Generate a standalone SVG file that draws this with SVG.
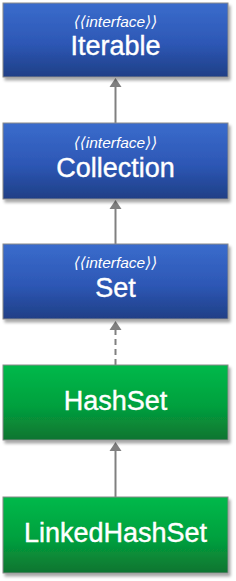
<svg xmlns="http://www.w3.org/2000/svg" width="236" height="581" viewBox="0 0 236 581">
<defs>
<linearGradient id="gb" x1="0" y1="0" x2="0" y2="1">
<stop offset="0" stop-color="#3a6ccc"/>
<stop offset="0.55" stop-color="#2d57b5"/>
<stop offset="1" stop-color="#1f3f86"/>
</linearGradient>
<linearGradient id="gg" x1="0" y1="0" x2="0" y2="1">
<stop offset="0" stop-color="#00b94a"/>
<stop offset="0.55" stop-color="#04a03e"/>
<stop offset="1" stop-color="#0b7430"/>
</linearGradient>
<filter id="sh" x="-10%" y="-10%" width="120%" height="130%">
<feGaussianBlur in="SourceAlpha" stdDeviation="1.5"/>
<feOffset dx="2" dy="3"/>
<feComponentTransfer><feFuncA type="linear" slope="0.35"/></feComponentTransfer>
<feMerge><feMergeNode/><feMergeNode in="SourceGraphic"/></feMerge>
</filter>
</defs>
<style>
.bx{stroke:#8a8a8a;stroke-width:1;filter:url(#sh)}
.blue{fill:url(#gb)}
.green{fill:url(#gg)}
.st{font-family:"Liberation Sans","DejaVu Sans",Arial,sans-serif;font-style:italic;font-size:15.5px;fill:#ffffff;text-anchor:middle}
.nm{font-family:"Liberation Sans",Arial,sans-serif;font-size:27px;fill:#ffffff;text-anchor:middle;stroke:#ffffff;stroke-width:0.4}
.ln{stroke:#808080;stroke-width:2;fill:none}
.ah{fill:#808080}
</style>
<g id="connectors">
<path class="ln" d="M115.5,123 V86"/>
<path class="ah" d="M109.5,87 L115.5,78 L121.5,87 Z"/>
<path class="ln" d="M115.5,244 V208"/>
<path class="ah" d="M109.5,209 L115.5,200 L121.5,209 Z"/>
<path class="ln" d="M115.5,365 V329" stroke-dasharray="6,4"/>
<path class="ah" d="M109.5,330 L115.5,321 L121.5,330 Z"/>
<path class="ln" d="M115.5,497 V450"/>
<path class="ah" d="M109.5,451 L115.5,442 L121.5,451 Z"/>
</g>
<g id="iterable">
<rect class="bx blue" x="3" y="3" width="225" height="74"/>
<text class="st" x="115.5" y="27">⟨⟨interface⟩⟩</text>
<text class="nm" x="115.5" y="55">Iterable</text>
</g>
<g id="collection">
<rect class="bx blue" x="3" y="123" width="225" height="76"/>
<text class="st" x="115.5" y="148">⟨⟨interface⟩⟩</text>
<text class="nm" x="115.5" y="177">Collection</text>
</g>
<g id="set">
<rect class="bx blue" x="3" y="244" width="225" height="75"/>
<text class="st" x="115.5" y="268">⟨⟨interface⟩⟩</text>
<text class="nm" x="115.5" y="297">Set</text>
</g>
<g id="hashset">
<rect class="bx green" x="3" y="365" width="225" height="75"/>
<text class="nm" x="115.5" y="410">HashSet</text>
</g>
<g id="linkedhashset">
<rect class="bx green" x="3" y="497" width="225" height="76"/>
<text class="nm" x="115.5" y="542">LinkedHashSet</text>
</g>
</svg>
